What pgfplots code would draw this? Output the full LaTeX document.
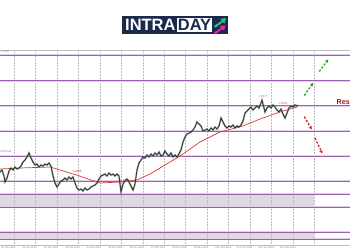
\documentclass[border=0pt]{standalone}
\usepackage{fontspec}
\setmainfont{Liberation Sans}
\usepackage{pgfplots}
\pgfplotsset{compat=1.18}
\usetikzlibrary{arrows.meta}
\definecolor{lvl}{RGB}{155,95,180}
\definecolor{lvlhalo}{RGB}{228,205,238}
\definecolor{bandgray}{RGB}{220,220,222}
\definecolor{gridc}{RGB}{190,190,190}
\definecolor{navy}{RGB}{27,42,74}
\definecolor{price}{RGB}{50,55,50}
\definecolor{pricel}{RGB}{110,150,120}
\definecolor{ma}{RGB}{215,60,60}
\definecolor{garrow}{RGB}{40,160,40}
\definecolor{rarrow}{RGB}{215,30,30}
\definecolor{pinklab}{RGB}{210,100,130}
\definecolor{logogreen}{RGB}{40,200,120}
\definecolor{logopink}{RGB}{225,40,170}
\pgfplotstableread{
x y
0 172
2 170
4 176
5 182
7 178
9 171
11 168
13 170
15 167
17 169
19 168
21 166
23 162
25 160
27 157
29 153
31 158
33 162
35 165
37 164
39 167
41 165
43 166
45 164
47 165
49 163
51 166
53 176
55 183
57 187
59 184
61 181
63 180
65 178
67 180
69 177
71 179
73 177
75 183
77 188
79 190
81 189
83 191
85 188
87 190
89 189
91 187
93 186
95 185
97 183
99 179
101 176
103 175
105 174
107 176
109 173
111 175
113 174
115 176
117 174
119 176
121 192
123 184
125 181
127 179
129 182
131 186
133 190
135 184
137 170
139 163
141 160
143 157
145 158
147 155
149 157
151 154
153 156
155 153
157 155
159 152
161 156
163 155
165 151
167 154
169 156
171 153
173 157
175 155
177 157
179 154
181 150
183 142
185 137
187 134
189 133
191 132
193 130
195 127
197 122
199 124
201 126
203 131
205 130
207 129
209 131
211 128
213 130
215 127
217 129
219 126
221 118
223 122
225 126
227 128
229 126
231 127
233 125
235 128
237 126
239 127
241 125
243 121
245 113
247 111
249 109
251 107
253 110
255 108
257 106
259 108
261 103
262 100
263 104
265 112
267 108
269 106
271 108
273 105
275 107
277 110
279 112
281 109
283 114
285 118
287 113
289 108
291 106
293 107
295 105
297 106
298 105
}\pricetable
\begin{document}
\begin{tikzpicture}
\begin{axis}[at={(0,0)},anchor=south west,scale only axis,width=350bp,height=250bp,
  xmin=0,xmax=350,ymin=0,ymax=250,y dir=reverse,hide axis,clip=false]
% frame
\addplot[gridc,line width=0.6bp] coordinates {(0,50)(350,50)};
\addplot[gridc,line width=0.6bp] coordinates {(0,245.3)(350,245.3)};
% gray bands
\fill[bandgray] (axis cs:0,194.3) rectangle (axis cs:314,207);
\fill[bandgray] (axis cs:0,232.3) rectangle (axis cs:314,239.3);
% vertical grid
\pgfplotsinvokeforeach{0,...,14}{
  \draw[gridc,line width=0.5bp,densely dotted] (axis cs:{14.3+21.43*#1},50) -- (axis cs:{14.3+21.43*#1},245.3);
}
% horizontal levels
\pgfplotsinvokeforeach{55.3,80.7,105.7,131,156,181.3,194.3,207,232.3,239.3}{
  \addplot[lvlhalo,line width=2.2bp] coordinates {(0,#1)(350,#1)};
  \addplot[lvl,line width=0.8bp] coordinates {(0,#1)(350,#1)};
}
% moving average
\addplot[ma,line width=0.7bp] coordinates {
(0,169)(20,168)(50,167)(75,174.5)(100,183)(120,182)(137,180)(150,174)(165,165)
(180,156)(190,149)(200,142)(210,137)(220,132)(243,126)(260,119)(280,112)(297,107)};
% price (candle-like texture)
\addplot[pricel,line width=1.8bp,opacity=0.55] table {\pricetable};
\addplot[price,line width=0.9bp] table {\pricetable};
% arrows
\draw[garrow,line width=1.3bp,dash pattern=on 2.2bp off 1.6bp,-{Stealth[length=3.5bp,width=3.5bp]}] (axis cs:304.3,95.5) -- (axis cs:313.3,82.7);
\draw[garrow,line width=1.3bp,dash pattern=on 2.2bp off 1.6bp,-{Stealth[length=3.5bp,width=3.5bp]}] (axis cs:319.3,71.5) -- (axis cs:328.3,59.3);
\draw[rarrow,line width=1.3bp,dash pattern=on 2.2bp off 1.6bp,-{Stealth[length=3.5bp,width=3.5bp]}] (axis cs:304.3,116.7) -- (axis cs:311.7,129.5);
\draw[rarrow,line width=1.3bp,dash pattern=on 2.2bp off 1.6bp,-{Stealth[length=3.5bp,width=3.5bp]}] (axis cs:315,138) -- (axis cs:322.3,153.5);
% labels
\node[anchor=west,inner sep=0pt,text=rarrow!80!black,font=\bfseries\fontsize{7.2}{8}\selectfont] at (axis cs:336.5,101.7) {Res};
\node[inner sep=0pt,text=pinklab,font=\fontsize{3}{3}\selectfont] at (axis cs:263,96.5) {1.2875};
\node[inner sep=0pt,text=pinklab,font=\fontsize{3}{3}\selectfont] at (axis cs:283,103) {1.2805};
\node[inner sep=0pt,text=rarrow,font=\fontsize{3}{3}\selectfont] at (axis cs:77,171.5) {1.2585};
\node[inner sep=0pt,text=rarrow,font=\fontsize{3}{3}\selectfont] at (axis cs:125,180.5) {1.2615};
\node[anchor=west,inner sep=0pt,text=lvl,font=\fontsize{3}{3}\selectfont] at (axis cs:0.3,151) {nd Pivot};
\node[anchor=west,inner sep=0pt,text=gray,font=\fontsize{2.6}{3}\selectfont] at (axis cs:0.8,51.8) {1.2758};
\pgfplotsinvokeforeach{0,...,13}{
  \node[anchor=west,inner sep=0pt,text=gray,font=\fontsize{2.6}{3}\selectfont] at (axis cs:{1+21.43*#1},247.6) {2#1 Jun 2024};
}
% logo
\fill[navy] (axis cs:122,15.7) rectangle (axis cs:228,34.3);
\fill[white] (axis cs:177,18.3) rectangle (axis cs:212,32);
\node[anchor=west,inner sep=0pt,text=white,font=\bfseries\fontsize{16.5}{16}\selectfont] at (axis cs:125,25.3) {INTRA};
\node[anchor=center,inner sep=0pt,text=navy,font=\bfseries\fontsize{16.5}{16}\selectfont] at (axis cs:194.5,25.3) {DAY};
\fill[logogreen] (axis cs:214,26) -- (axis cs:222,20.5) -- (axis cs:220,19) -- (axis cs:226,18) -- (axis cs:224.5,23.5) -- (axis cs:223,22) -- (axis cs:215.5,27.5) -- cycle;
\fill[logopink] (axis cs:214,32.5) -- (axis cs:221.5,27.5) -- (axis cs:219.5,26) -- (axis cs:225.5,25.5) -- (axis cs:224,30.5) -- (axis cs:222.5,29) -- (axis cs:215.5,34) -- cycle;
\end{axis}
\pgfresetboundingbox
\path[use as bounding box] (0,0) rectangle (350bp,250bp);
\end{tikzpicture}
\end{document}
